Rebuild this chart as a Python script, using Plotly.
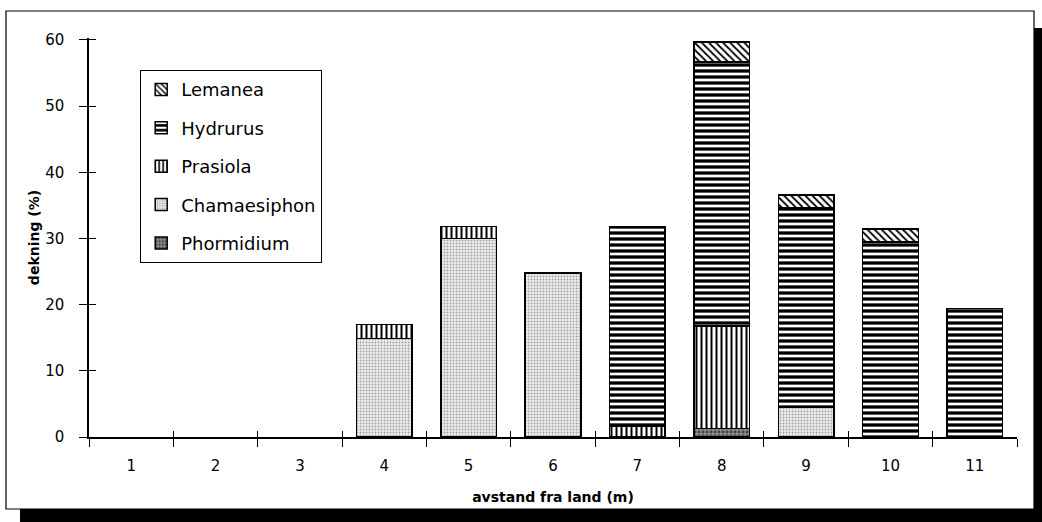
import plotly.graph_objects as go

distance = ["1", "2", "3", "4", "5", "6", "7", "8", "9", "10", "11"]
phormidium = [0, 0, 0, 0, 0, 0, 0, 1.3, 0, 0, 0]
chamaesiphon = [0, 0, 0, 14.9, 30.0, 24.8, 0, 0, 4.5, 0, 0]
prasiola = [0, 0, 0, 2.1, 1.8, 0, 1.7, 15.5, 0, 0, 0]
hydrurus = [0, 0, 0, 0, 0, 0, 30.0, 39.9, 30.1, 29.5, 19.4]
lemanea = [0, 0, 0, 0, 0, 0, 0, 3.0, 2.0, 1.9, 0]
y_ticks = [0, 10, 20, 30, 40, 50, 60]

FONT = "DejaVu Sans"

series = [
    ("Phormidium", phormidium, dict(shape=".", bgcolor="#8a8a8a", fgcolor="#444444", size=4, solidity=0.4)),
    ("Chamaesiphon", chamaesiphon, dict(shape=".", bgcolor="#eeeeee", fgcolor="#a0a0a0", size=3, solidity=0.3)),
    ("Prasiola", prasiola, dict(shape="|", bgcolor="white", fgcolor="black", size=5, solidity=0.4)),
    ("Hydrurus", hydrurus, dict(shape="-", bgcolor="white", fgcolor="black", size=6, solidity=0.55)),
    ("Lemanea", lemanea, dict(shape="\\", bgcolor="white", fgcolor="black", size=5, solidity=0.35)),
]

fig = go.Figure()
n = len(series)
for i, (name, vals, pat) in enumerate(series):
    fig.add_trace(go.Bar(
        x=distance, y=[v if v else None for v in vals], name=name, legendgroup=name,
        legendrank=n - i,
        marker=dict(color=pat["bgcolor"], line=dict(color="black", width=1.5),
                    pattern=dict(shape=pat["shape"], bgcolor=pat["bgcolor"], fgcolor=pat["fgcolor"],
                                 size=pat["size"], solidity=pat["solidity"], fillmode="replace")),
    ))

# helper trace for the overlay axes (inside half of the crossing ticks)
fig.add_trace(go.Scatter(x=distance, y=[0] * len(distance), xaxis="x2", yaxis="y2",
                         mode="markers", marker=dict(opacity=0), showlegend=False, hoverinfo="skip"))

L, R, T, B = 89, 25, 38, 85
W, H = 1042, 522
pw, ph = W - L - R, H - T - B

def px_x(x):
    return (x - L) / pw

def px_y(y):
    return (H - B - y) / ph

fig.update_layout(
    width=W, height=H,
    margin=dict(l=L, r=R, t=T, b=B, pad=0),
    paper_bgcolor="black", plot_bgcolor="rgba(0,0,0,0)",
    barmode="stack", bargap=0.34,
    font=dict(family=FONT, color="black", size=15),
    showlegend=True,
    legend=dict(
        x=px_x(140), y=px_y(70), xanchor="left", yanchor="top",
        traceorder="grouped", tracegroupgap=12,
        bordercolor="black", borderwidth=1.2, bgcolor="white",
        font=dict(family=FONT, size=18, color="black"),
        itemwidth=30,
    ),
    xaxis=dict(
        type="category", categoryorder="array", categoryarray=distance,
        range=[-0.5, 10.5], tickson="boundaries", ticks="outside", ticklen=8, tickwidth=1.2,
        tickcolor="black", showline=True, linecolor="black", linewidth=1.5,
        showgrid=False, zeroline=False, ticklabelstandoff=14,
        tickfont=dict(family=FONT, size=15),
        title=dict(text="<b>avstand fra land (m)</b>", font=dict(family=FONT, size=14), standoff=18),
    ),
    yaxis=dict(
        range=[0, 60.3], tickvals=y_ticks, ticks="outside", ticklen=8, tickwidth=1.2,
        tickcolor="black", showline=True, linecolor="black", linewidth=1.5,
        showgrid=False, zeroline=False, ticklabelstandoff=12,
        tickfont=dict(family=FONT, size=15),
        title=dict(text="<b>dekning (%)</b>", font=dict(family=FONT, size=14), standoff=2),
    ),
    xaxis2=dict(
        overlaying="x", anchor="y2", type="category", categoryorder="array", categoryarray=distance,
        range=[-0.5, 10.5], tickson="boundaries", ticks="inside", ticklen=6, tickwidth=1.2,
        tickcolor="black", showticklabels=False, showline=False, showgrid=False, zeroline=False,
    ),
    yaxis2=dict(
        overlaying="y", anchor="x2", range=[0, 60.3], tickvals=y_ticks, ticks="inside", ticklen=7,
        tickwidth=1.2, tickcolor="black", showticklabels=False, showline=False, showgrid=False,
        zeroline=False,
    ),
    shapes=[
        # white page outside the drop shadow
        dict(type="rect", xref="paper", yref="paper", layer="below",
             x0=px_x(-20), x1=px_x(1080), y0=px_y(28), y1=px_y(-20),
             fillcolor="white", line=dict(width=0)),
        dict(type="rect", xref="paper", yref="paper", layer="below",
             x0=px_x(-20), x1=px_x(20), y0=px_y(560), y1=px_y(-20),
             fillcolor="white", line=dict(width=0)),
        # chart frame
        dict(type="rect", xref="paper", yref="paper", layer="below",
             x0=px_x(6), x1=px_x(1034), y0=px_y(509), y1=px_y(11),
             fillcolor="white", line=dict(color="black", width=1.2)),
    ],
)

fig.write_html(
    "out.html", config={"displayModeBar": False},
    post_script=(
        "document.documentElement.style.overflow='hidden';"
        "document.documentElement.style.margin='0';"
        "document.body.style.margin='0';document.body.style.overflow='hidden';"
        "document.body.style.background='black';"
    ),
)
